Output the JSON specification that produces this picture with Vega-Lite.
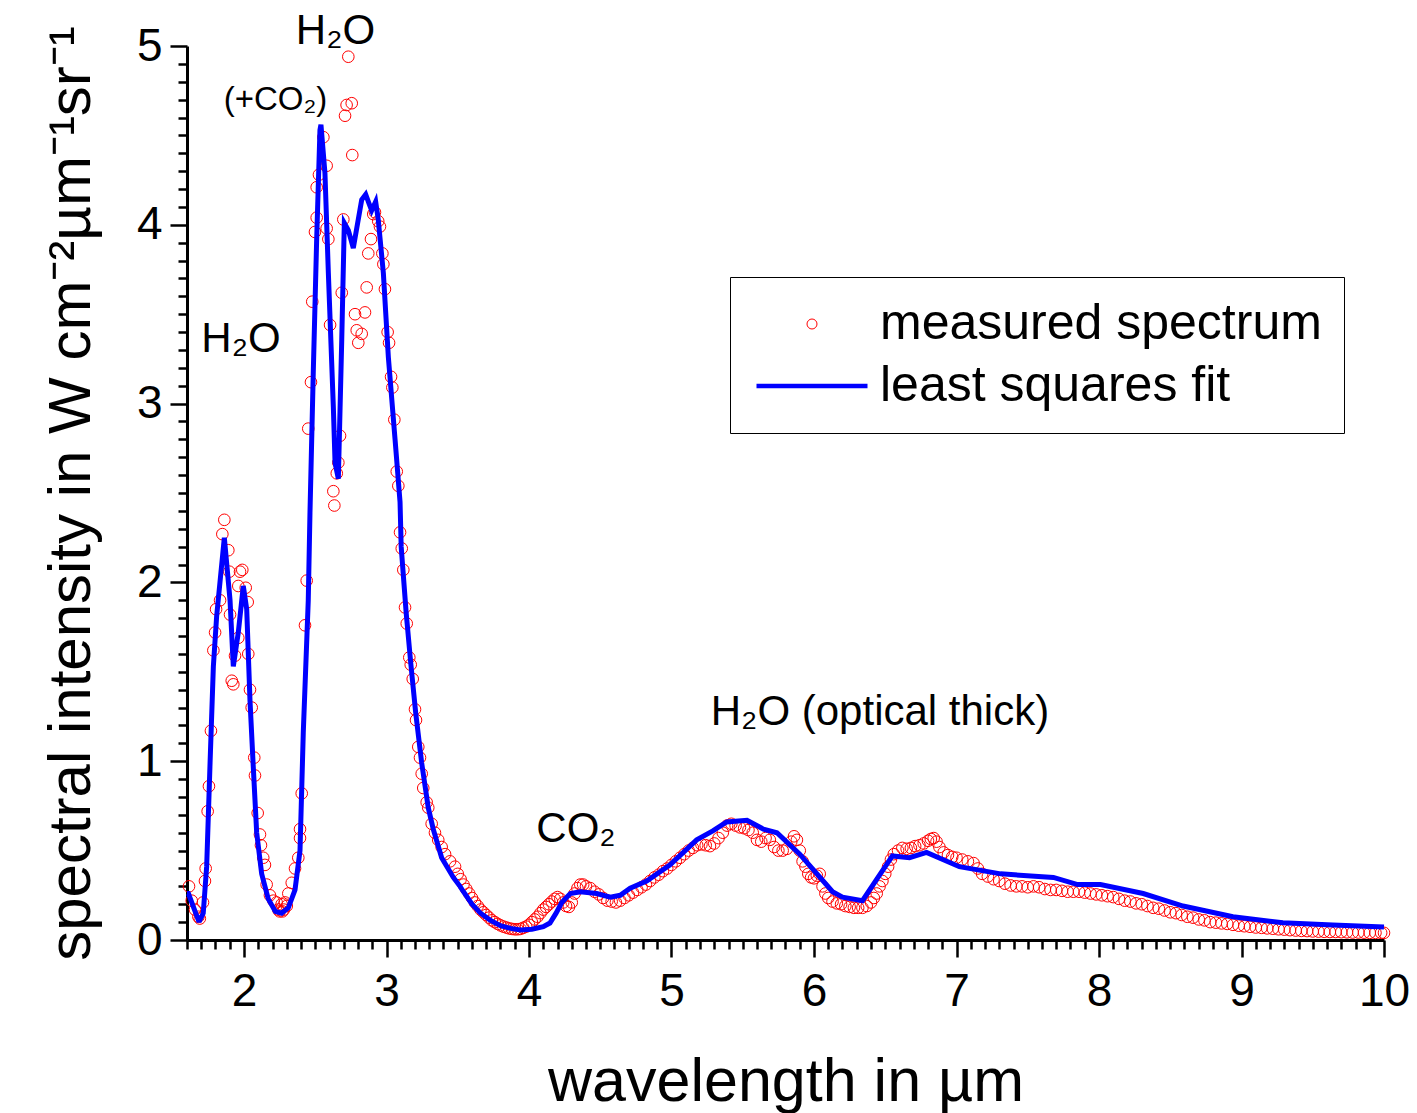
{
  "$schema": "https://vega.github.io/schema/vega-lite/v6.json",
  "width": 1197,
  "height": 894,
  "autosize": {"type": "none"},
  "padding": {"left": 187, "top": 46, "right": 33, "bottom": 173},
  "background": "white",
  "config": {"view": {"stroke": null}, "font": "Liberation Sans"},
  "datasets": {
    "measured": [
      {"x":1.614,"y":0.30},{"x":1.633,"y":0.22},{"x":1.656,"y":0.17},{"x":1.68,"y":0.13},{"x":1.69,"y":0.12},{"x":1.712,"y":0.21},{"x":1.726,"y":0.33},{"x":1.731,"y":0.40},{"x":1.745,"y":0.72},{"x":1.754,"y":0.86},{"x":1.768,"y":1.17},{"x":1.785,"y":1.62},{"x":1.797,"y":1.72},{"x":1.804,"y":1.85},{"x":1.832,"y":1.90},{"x":1.848,"y":2.27},{"x":1.862,"y":2.35},{"x":1.89,"y":2.18},{"x":1.897,"y":2.06},{"x":1.902,"y":1.82},{"x":1.914,"y":1.45},{"x":1.925,"y":1.43},{"x":1.937,"y":1.59},{"x":1.96,"y":1.69},{"x":1.96,"y":1.98},{"x":1.972,"y":2.06},{"x":1.988,"y":2.07},{"x":2.012,"y":1.97},{"x":2.026,"y":1.89},{"x":2.03,"y":1.60},{"x":2.042,"y":1.40},{"x":2.054,"y":1.30},{"x":2.072,"y":1.02},{"x":2.077,"y":0.92},{"x":2.096,"y":0.71},{"x":2.112,"y":0.59},{"x":2.119,"y":0.53},{"x":2.135,"y":0.46},{"x":2.147,"y":0.42},{"x":2.159,"y":0.31},{"x":2.182,"y":0.25},{"x":2.206,"y":0.22},{"x":2.229,"y":0.21},{"x":2.24,"y":0.17},{"x":2.25,"y":0.16},{"x":2.264,"y":0.20},{"x":2.27,"y":0.16},{"x":2.28,"y":0.17},{"x":2.288,"y":0.21},{"x":2.30,"y":0.19},{"x":2.311,"y":0.26},{"x":2.335,"y":0.32},{"x":2.358,"y":0.40},{"x":2.381,"y":0.46},{"x":2.393,"y":0.57},{"x":2.393,"y":0.62},{"x":2.405,"y":0.82},
      {"x":2.428,"y":1.76},{"x":2.44,"y":2.01},{"x":2.451,"y":2.86},{"x":2.47,"y":3.12},{"x":2.479,"y":3.57},{"x":2.498,"y":3.96},{"x":2.51,"y":4.04},{"x":2.51,"y":4.21},{"x":2.526,"y":4.28},{"x":2.557,"y":4.49},{"x":2.58,"y":4.33},{"x":2.58,"y":3.98},{"x":2.592,"y":3.92},{"x":2.604,"y":3.44},{"x":2.627,"y":2.51},{"x":2.634,"y":2.43},{"x":2.651,"y":2.61},{"x":2.662,"y":2.67},{"x":2.674,"y":2.82},{"x":2.686,"y":3.62},{"x":2.697,"y":4.03},{"x":2.709,"y":4.61},{"x":2.72,"y":4.67},{"x":2.732,"y":4.94},{"x":2.756,"y":4.68},{"x":2.76,"y":4.39},{"x":2.779,"y":3.50},{"x":2.791,"y":3.41},{"x":2.802,"y":3.34},{"x":2.826,"y":3.39},{"x":2.849,"y":3.51},{"x":2.861,"y":3.65},{"x":2.872,"y":3.84},{"x":2.891,"y":3.92},{"x":2.907,"y":4.06},{"x":2.919,"y":4.07},{"x":2.942,"y":4.02},{"x":2.954,"y":3.99},{"x":2.971,"y":3.84},{"x":2.978,"y":3.78},{"x":2.989,"y":3.64},{"x":3.008,"y":3.40},{"x":3.018,"y":3.34},{"x":3.032,"y":3.15},{"x":3.041,"y":3.09},{"x":3.055,"y":2.91},{"x":3.072,"y":2.62},{"x":3.083,"y":2.54},
      {"x":3.095,"y":2.28},{"x":3.107,"y":2.19},{"x":3.118,"y":2.07},{"x":3.13,"y":1.86},{"x":3.142,"y":1.77},{"x":3.16,"y":1.58},{"x":3.17,"y":1.54},{"x":3.184,"y":1.46},{"x":3.2,"y":1.29},{"x":3.207,"y":1.23},{"x":3.223,"y":1.08},{"x":3.235,"y":1.02},{"x":3.247,"y":0.93},{"x":3.258,"y":0.85},{"x":3.282,"y":0.77},{"x":3.293,"y":0.74},{"x":3.317,"y":0.65},{"x":3.34,"y":0.60},{"x":3.363,"y":0.56},{"x":3.387,"y":0.52},{"x":3.411,"y":0.48},{"x":3.446,"y":0.44},{"x":3.481,"y":0.41},
      {"x":3.50,"y":0.37},{"x":3.52,"y":0.34},{"x":3.54,"y":0.31},{"x":3.56,"y":0.285},{"x":3.58,"y":0.26},{"x":3.60,"y":0.235},{"x":3.62,"y":0.21},{"x":3.64,"y":0.19},{"x":3.66,"y":0.17},{"x":3.68,"y":0.155},{"x":3.70,"y":0.14},{"x":3.72,"y":0.125},{"x":3.74,"y":0.11},{"x":3.76,"y":0.10},{"x":3.78,"y":0.09},{"x":3.80,"y":0.082},{"x":3.82,"y":0.075},{"x":3.84,"y":0.07},{"x":3.86,"y":0.065},{"x":3.88,"y":0.062},{"x":3.90,"y":0.06},{"x":3.92,"y":0.06},{"x":3.94,"y":0.062},{"x":3.96,"y":0.068},{"x":3.98,"y":0.075},{"x":4.00,"y":0.085},{"x":4.02,"y":0.10},{"x":4.04,"y":0.115},{"x":4.06,"y":0.13},{"x":4.08,"y":0.15},{"x":4.10,"y":0.17},{"x":4.12,"y":0.185},{"x":4.14,"y":0.20},{"x":4.16,"y":0.215},{"x":4.18,"y":0.23},{"x":4.20,"y":0.24},{"x":4.22,"y":0.23},{"x":4.24,"y":0.21},{"x":4.26,"y":0.19},{"x":4.28,"y":0.185},{"x":4.30,"y":0.21},{"x":4.32,"y":0.26},{"x":4.34,"y":0.29},{"x":4.36,"y":0.31},{"x":4.38,"y":0.31},{"x":4.40,"y":0.30},{"x":4.43,"y":0.29},{"x":4.46,"y":0.27},{"x":4.49,"y":0.255},{"x":4.52,"y":0.235},{"x":4.55,"y":0.22},{"x":4.58,"y":0.215},{"x":4.61,"y":0.21},{"x":4.64,"y":0.22},{"x":4.67,"y":0.235},{"x":4.70,"y":0.25},{"x":4.73,"y":0.265},{"x":4.76,"y":0.28},{"x":4.79,"y":0.295},{"x":4.82,"y":0.31},{"x":4.85,"y":0.33},{"x":4.88,"y":0.35},{"x":4.91,"y":0.365},{"x":4.94,"y":0.385},{"x":4.97,"y":0.40},{"x":5.00,"y":0.42},{"x":5.03,"y":0.44},{"x":5.06,"y":0.46},{"x":5.09,"y":0.48},{"x":5.12,"y":0.50},{"x":5.15,"y":0.515},{"x":5.18,"y":0.53},{"x":5.21,"y":0.535},{"x":5.24,"y":0.53},{"x":5.27,"y":0.525},{"x":5.30,"y":0.54},{"x":5.33,"y":0.57},{"x":5.36,"y":0.60},{"x":5.39,"y":0.64},{"x":5.42,"y":0.65},{"x":5.45,"y":0.64},{"x":5.48,"y":0.63},{"x":5.51,"y":0.625},{"x":5.54,"y":0.615},{"x":5.57,"y":0.60},{"x":5.60,"y":0.56},{"x":5.63,"y":0.55},{"x":5.66,"y":0.57},{"x":5.69,"y":0.56},{"x":5.72,"y":0.52},{"x":5.75,"y":0.50},{"x":5.78,"y":0.50},{"x":5.81,"y":0.51},{"x":5.84,"y":0.55},{"x":5.86,"y":0.58},{"x":5.88,"y":0.56},{"x":5.90,"y":0.50},{"x":5.92,"y":0.44},{"x":5.94,"y":0.41},{"x":5.96,"y":0.37},{"x":5.98,"y":0.35},{"x":6.00,"y":0.345},{"x":6.02,"y":0.36},{"x":6.04,"y":0.37},{"x":6.06,"y":0.30},{"x":6.08,"y":0.26},{"x":6.10,"y":0.235},{"x":6.13,"y":0.215},{"x":6.16,"y":0.205},{"x":6.19,"y":0.20},{"x":6.22,"y":0.19},{"x":6.25,"y":0.185},{"x":6.28,"y":0.18},{"x":6.31,"y":0.18},{"x":6.34,"y":0.18},{"x":6.37,"y":0.19},{"x":6.40,"y":0.21},{"x":6.42,"y":0.235},{"x":6.44,"y":0.26},{"x":6.46,"y":0.30},{"x":6.48,"y":0.33},{"x":6.50,"y":0.37},{"x":6.52,"y":0.41},{"x":6.54,"y":0.45},{"x":6.56,"y":0.48},{"x":6.59,"y":0.50},{"x":6.62,"y":0.515},{"x":6.65,"y":0.51},{"x":6.68,"y":0.515},{"x":6.71,"y":0.525},{"x":6.74,"y":0.53},{"x":6.77,"y":0.54},{"x":6.80,"y":0.555},{"x":6.82,"y":0.565},{"x":6.84,"y":0.57},{"x":6.86,"y":0.55},{"x":6.88,"y":0.52},{"x":6.91,"y":0.49},{"x":6.94,"y":0.475},{"x":6.97,"y":0.465},{"x":7.00,"y":0.46},{"x":7.04,"y":0.45},{"x":7.08,"y":0.44},{"x":7.12,"y":0.43},{"x":7.15,"y":0.40},{"x":7.18,"y":0.37},{"x":7.22,"y":0.355},{"x":7.26,"y":0.34},{"x":7.30,"y":0.33},{"x":7.34,"y":0.315},{"x":7.38,"y":0.305},{"x":7.42,"y":0.30},{"x":7.46,"y":0.30},{"x":7.50,"y":0.295},{"x":7.54,"y":0.30},{"x":7.58,"y":0.295},{"x":7.62,"y":0.285},{"x":7.66,"y":0.28},{"x":7.70,"y":0.28},{"x":7.74,"y":0.275},{"x":7.78,"y":0.27},{"x":7.82,"y":0.27},{"x":7.86,"y":0.27},{"x":7.90,"y":0.265},{"x":7.94,"y":0.26},{"x":7.98,"y":0.255},{"x":8.02,"y":0.25},{"x":8.06,"y":0.245},{"x":8.10,"y":0.24},{"x":8.14,"y":0.23},{"x":8.18,"y":0.22},{"x":8.22,"y":0.215},{"x":8.26,"y":0.205},{"x":8.30,"y":0.20},{"x":8.34,"y":0.19},{"x":8.38,"y":0.18},{"x":8.42,"y":0.175},{"x":8.46,"y":0.165},{"x":8.50,"y":0.155},{"x":8.54,"y":0.15},{"x":8.58,"y":0.14},{"x":8.62,"y":0.13},{"x":8.66,"y":0.125},{"x":8.70,"y":0.115},{"x":8.74,"y":0.11},{"x":8.78,"y":0.10},{"x":8.82,"y":0.097},{"x":8.86,"y":0.093},{"x":8.90,"y":0.09},{"x":8.94,"y":0.085},{"x":8.98,"y":0.08},{"x":9.02,"y":0.077},{"x":9.06,"y":0.074},{"x":9.10,"y":0.07},{"x":9.14,"y":0.068},{"x":9.18,"y":0.065},{"x":9.22,"y":0.063},{"x":9.26,"y":0.06},{"x":9.30,"y":0.058},{"x":9.34,"y":0.055},{"x":9.38,"y":0.053},{"x":9.42,"y":0.051},{"x":9.46,"y":0.05},{"x":9.50,"y":0.048},{"x":9.54,"y":0.047},{"x":9.58,"y":0.046},{"x":9.62,"y":0.045},{"x":9.66,"y":0.045},{"x":9.70,"y":0.044},{"x":9.74,"y":0.043},{"x":9.78,"y":0.042},{"x":9.82,"y":0.042},{"x":9.86,"y":0.041},{"x":9.90,"y":0.04},{"x":9.94,"y":0.04},{"x":9.98,"y":0.04},{"x":10.0,"y":0.04}
    ],
    "fit": [
      {"x":1.60,"y":0.26},{"x":1.61,"y":0.26},{"x":1.68,"y":0.11},{"x":1.69,"y":0.11},{"x":1.714,"y":0.15},{"x":1.738,"y":0.41},{"x":1.761,"y":0.97},{"x":1.785,"y":1.53},{"x":1.808,"y":1.81},{"x":1.862,"y":2.25},{"x":1.902,"y":1.90},{"x":1.925,"y":1.53},{"x":1.96,"y":1.72},{"x":1.995,"y":1.98},{"x":2.019,"y":1.85},{"x":2.042,"y":1.34},{"x":2.065,"y":0.97},{"x":2.089,"y":0.60},{"x":2.124,"y":0.37},{"x":2.17,"y":0.23},{"x":2.22,"y":0.16},{"x":2.264,"y":0.15},{"x":2.311,"y":0.18},{"x":2.358,"y":0.28},{"x":2.393,"y":0.50},{"x":2.416,"y":1.16},{"x":2.451,"y":1.90},{"x":2.463,"y":2.39},{"x":2.486,"y":3.17},{"x":2.51,"y":3.92},{"x":2.533,"y":4.53},{"x":2.54,"y":4.56},{"x":2.568,"y":4.29},{"x":2.592,"y":3.73},{"x":2.627,"y":2.98},{"x":2.639,"y":2.67},{"x":2.662,"y":2.58},{"x":2.686,"y":3.36},{"x":2.704,"y":4.01},{"x":2.732,"y":3.97},{"x":2.767,"y":3.87},{"x":2.802,"y":4.03},{"x":2.826,"y":4.14},{"x":2.854,"y":4.17},{"x":2.877,"y":4.12},{"x":2.896,"y":4.08},{"x":2.924,"y":4.13},{"x":2.942,"y":4.03},{"x":2.978,"y":3.73},{"x":3.013,"y":3.26},{"x":3.06,"y":2.80},{"x":3.095,"y":2.45},{"x":3.103,"y":2.20},{"x":3.138,"y":1.83},{"x":3.17,"y":1.55},{"x":3.205,"y":1.27},{"x":3.247,"y":0.99},{"x":3.293,"y":0.74},{"x":3.328,"y":0.62},{"x":3.387,"y":0.46},{"x":3.469,"y":0.35},{"x":3.516,"y":0.30},{"x":3.54,"y":0.27},{"x":3.60,"y":0.20},{"x":3.66,"y":0.15},{"x":3.73,"y":0.11},{"x":3.80,"y":0.08},{"x":3.87,"y":0.065},{"x":3.94,"y":0.056},{"x":4.02,"y":0.06},{"x":4.10,"y":0.075},{"x":4.147,"y":0.095},{"x":4.19,"y":0.15},{"x":4.23,"y":0.21},{"x":4.29,"y":0.26},{"x":4.36,"y":0.27},{"x":4.475,"y":0.26},{"x":4.57,"y":0.24},{"x":4.64,"y":0.25},{"x":4.71,"y":0.29},{"x":4.826,"y":0.33},{"x":4.99,"y":0.42},{"x":5.177,"y":0.56},{"x":5.29,"y":0.61},{"x":5.387,"y":0.66},{"x":5.53,"y":0.67},{"x":5.645,"y":0.62},{"x":5.74,"y":0.60},{"x":5.90,"y":0.48},{"x":6.13,"y":0.27},{"x":6.20,"y":0.24},{"x":6.34,"y":0.22},{"x":6.55,"y":0.47},{"x":6.67,"y":0.46},{"x":6.79,"y":0.49},{"x":7.02,"y":0.41},{"x":7.31,"y":0.37},{"x":7.68,"y":0.35},{"x":7.85,"y":0.31},{"x":8.01,"y":0.31},{"x":8.31,"y":0.26},{"x":8.59,"y":0.19},{"x":8.94,"y":0.13},{"x":9.29,"y":0.096},{"x":9.64,"y":0.084},{"x":10.0,"y":0.073}
    ],
    "ann": [
      {"x":1.979,"y":3.29,"t":"H₂O"},
      {"x":2.642,"y":5.01,"t":"H₂O"},
      {"x":4.33,"y":0.548,"t":"CO₂"},
      {"x":6.463,"y":1.20,"t":"H₂O (optical thick)"}
    ],
    "ann2": [
      {"x":2.221,"y":4.64,"t":"(+CO₂)"}
    ]
  },
  "encoding": {
    "x": {
      "field": "x", "type": "quantitative",
      "scale": {"domain": [1.6, 10], "nice": false, "zero": false},
      "axis": {
        "title": "wavelength in µm", "titleFontSize": 61, "titleFontWeight": "normal", "titleColor": "black", "titlePadding": 38,
        "grid": false, "tickCount": 84, "labelOverlap": false, "labelFlush": false, "labelBound": false,
        "labelExpr": "abs(datum.value - round(datum.value)) < 0.001 ? '' + round(datum.value) : ''",
        "labelFontSize": 46, "labelColor": "black", "labelPadding": 12,
        "domainColor": "black", "domainWidth": 3, "tickColor": "black", "tickWidth": 2.5,
        "tickSize": {"condition": {"test": "abs(datum.value - round(datum.value)) < 0.001", "value": 17}, "value": 9}
      }
    },
    "y": {
      "field": "y", "type": "quantitative",
      "scale": {"domain": [0, 5], "nice": false},
      "axis": {
        "title": "spectral intensity in W cm⁻²µm⁻¹sr⁻¹", "titleFontSize": 60, "titleFontWeight": "normal", "titleColor": "black", "titlePadding": 34,
        "grid": false, "tickCount": 50, "labelOverlap": false, "labelFlush": false, "labelBound": false,
        "labelExpr": "abs(datum.value - round(datum.value)) < 0.001 ? '' + round(datum.value) : ''",
        "labelFontSize": 46, "labelColor": "black", "labelPadding": 8,
        "domainColor": "black", "domainWidth": 3, "tickColor": "black", "tickWidth": 2.5,
        "tickSize": {"condition": {"test": "abs(datum.value - round(datum.value)) < 0.001", "value": 17}, "value": 9}
      }
    }
  },
  "layer": [
    {
      "data": {"name": "measured"},
      "mark": {"type": "point", "filled": false, "strokeWidth": 1, "size": 135, "opacity": 1},
      "encoding": {
        "color": {
          "datum": "measured spectrum", "type": "nominal",
          "scale": {"domain": ["measured spectrum", "least squares fit"], "range": ["#ff0000", "#0000ff"]},
          "legend": {
            "title": null, "orient": "none", "legendX": 543, "legendY": 231,
            "strokeColor": "black", "fillColor": "white", "padding": 22,
            "labelFont": "Liberation Sans", "labelFontSize": 50, "labelColor": "black", "labelLimit": 0,
            "labelOffset": 43, "symbolOffset": 35,
            "symbolSize": 100, "rowPadding": 12,
            "symbolType": {"expr": "datum.value === 'least squares fit' ? 'M-11.1,0H11.1' : 'circle'"},
            "symbolStrokeWidth": {"expr": "datum.value === 'least squares fit' ? 4.5 : 1"}
          }
        }
      }
    },
    {
      "data": {"name": "fit"},
      "mark": {"type": "line", "strokeWidth": 5},
      "encoding": {"color": {"datum": "least squares fit", "type": "nominal"}}
    },
    {
      "data": {"name": "ann"},
      "mark": {"type": "text", "fontSize": 42, "baseline": "alphabetic", "align": "center", "color": "black", "font": "Liberation Sans"},
      "encoding": {"text": {"field": "t"}}
    },
    {
      "data": {"name": "ann2"},
      "mark": {"type": "text", "fontSize": 33, "baseline": "alphabetic", "align": "center", "color": "black", "font": "Liberation Sans"},
      "encoding": {"text": {"field": "t"}}
    }
  ]
}
